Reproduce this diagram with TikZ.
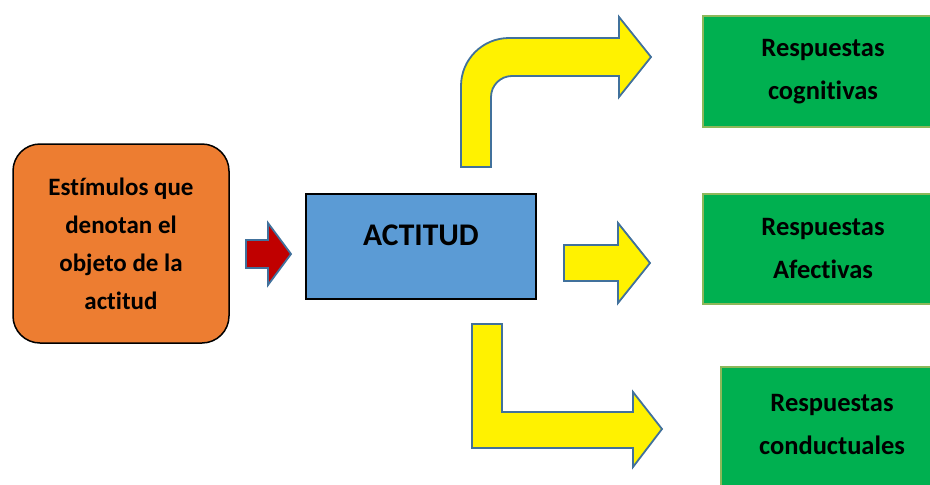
\documentclass[tikz,border=0pt]{standalone}
\usepackage{fontspec}
\setmainfont{Carlito}[Ligatures=NoCommon]
\usetikzlibrary{positioning}
\definecolor{stimorange}{HTML}{ED7D31}
\definecolor{attblue}{HTML}{5B9BD5}
\definecolor{respgreen}{HTML}{00B050}
\definecolor{respedge}{HTML}{8DB85A}
\definecolor{arrowedge}{HTML}{41719C}
\definecolor{darkred}{HTML}{C00000}
\tikzset
{
    stimulus/.style = {rectangle, rounded corners=27pt, draw=black, line width=1.5pt, fill=stimorange, align=center, minimum width=216pt, minimum height=199pt, font=\bfseries\fontsize{25}{38}\selectfont},
    attitude/.style = {rectangle, draw=black, line width=2pt, fill=attblue, minimum width=230pt, minimum height=105pt, text height=20pt, text depth=23pt, font=\bfseries\fontsize{31.5}{36}\selectfont},
    response/.style = {rectangle, draw=respedge, line width=1.5pt, fill=respgreen, align=center, minimum width=240pt, minimum height=111pt, font=\bfseries\fontsize{26.5}{43}\selectfont},
    blockarrow/.style = {draw=arrowedge, line width=1.8pt, line join=miter, fill=#1}
}

\begin{document}
\begin{tikzpicture}[x=1pt, y=-1pt]
	\useasboundingbox (0,0) rectangle (930,485);
	\node (stim) [stimulus] at (121,243.5) {Estímulos que\\denotan el\\objeto de la\\actitud};
	\node (act) [attitude] at (421,246.5) {ACTITUD};
	\node (cog) [response] at (823,71.5) {Respuestas\\cognitivas};
	\node (afe) [response, minimum height=110pt] at (823,249) {Respuestas\\Afectivas};
	\node (con) [response, minimum width=222pt, minimum height=130pt, text depth=15pt] at (832,432) {Respuestas\\conductuales};

	\draw [blockarrow=darkred] (246,240) -- (268,240) -- (268,223) -- (291,254) -- (268,285) -- (268,268) -- (246,268) -- cycle;
	\draw [blockarrow=yellow] (461,167) -- (461,86) .. controls (461,59.5) and (482.5,38) .. (509,38) -- (619,38) -- (619,17) -- (651,57) -- (619,97) -- (619,76) -- (512,76) .. controls (500.4,76) and (491,85.4) .. (491,97) -- (491,167) -- cycle;
	\draw [blockarrow=yellow] (564,245) -- (618,245) -- (618,223) -- (650,263) -- (618,303) -- (618,281) -- (564,281) -- cycle;
	\draw [blockarrow=yellow] (472,324) -- (472,448) -- (633,448) -- (633,467) -- (662,429) -- (633,392) -- (633,412) -- (502,412) -- (502,324) -- cycle;
\end{tikzpicture}
\end{document}
